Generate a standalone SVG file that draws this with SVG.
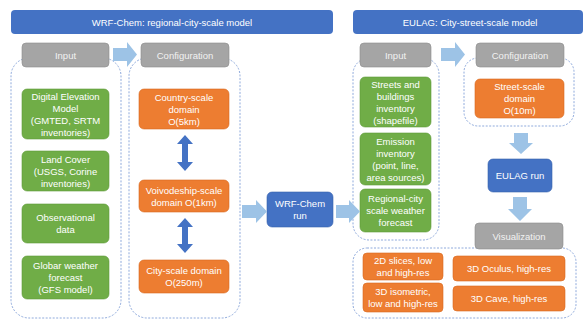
<svg xmlns="http://www.w3.org/2000/svg" width="585" height="320" viewBox="0 0 585 320">
<style>
text{font-family:"Liberation Sans",Arial,sans-serif;font-size:9.5px;fill:#fff;text-anchor:middle}
.gt{fill:#f2f2f2}
.title{fill:#4472c4}
.gray{fill:#a5a5a5;stroke:#8c8c8c;stroke-width:0.6}
.green{fill:#70ad47;stroke:#5f9a3a;stroke-width:0.6}
.orange{fill:#ed7d31;stroke:#d96a20;stroke-width:0.6}
.blue{fill:#4472c4;stroke:#3561ad;stroke-width:0.6}
.cont{fill:none;stroke:#8faadc;stroke-width:1;stroke-dasharray:2 1.5}
.larr{fill:#9dc3e6}
.darr{fill:#4472c4}
</style>
<rect width="585" height="320" fill="#fff"/>
<g id="containers">
<rect class="cont" x="11" y="58" width="110" height="260" rx="18"/>
<rect class="cont" x="129" y="58" width="111" height="260" rx="18"/>
<rect class="cont" x="353" y="58" width="86" height="182" rx="16"/>
<rect class="cont" x="464" y="58" width="110" height="68" rx="14"/>
<rect class="cont" x="353" y="248" width="223" height="70" rx="14"/>
</g>
<g id="title-wrf"><rect class="title" x="11" y="10" width="322" height="24" rx="4"/><text x="172" y="25.5">WRF-Chem: regional-city-scale model</text></g>
<g id="title-eulag"><rect class="title" x="353" y="10" width="230" height="24" rx="4"/><text x="470" y="25.5">EULAG: City-street-scale model</text></g>
<g id="input-left"><rect class="gray" x="22" y="43" width="87" height="24" rx="4"/><text class="gt" x="65.5" y="58.5">Input</text></g>
<g id="config-left"><rect class="gray" x="141" y="43" width="88" height="24" rx="4"/><text class="gt" x="185" y="58.5">Configuration</text></g>
<g id="input-right"><rect class="gray" x="360" y="43" width="71" height="24" rx="4"/><text class="gt" x="395.5" y="58.5">Input</text></g>
<g id="config-right"><rect class="gray" x="476" y="43" width="88" height="24" rx="4"/><text class="gt" x="520" y="58.5">Configuration</text></g>
<g id="dem"><rect class="green" x="22" y="89" width="87" height="50" rx="5"/><text x="65.5" y="99.5">Digital Elevation</text><text x="65.5" y="111.5">Model</text><text x="65.5" y="123.5">(GMTED, SRTM</text><text x="65.5" y="135.5">inventories)</text></g>
<g id="landcover"><rect class="green" x="22" y="151" width="87" height="40" rx="5"/><text x="65.5" y="162.5">Land Cover</text><text x="65.5" y="174.5">(USGS, Corine</text><text x="65.5" y="186.5">inventories)</text></g>
<g id="obs"><rect class="green" x="22" y="204" width="87" height="39" rx="5"/><text x="65.5" y="221">Observational</text><text x="65.5" y="233">data</text></g>
<g id="gfs"><rect class="green" x="22" y="256" width="87" height="43" rx="5"/><text x="65.5" y="269">Globar weather</text><text x="65.5" y="281">forecast</text><text x="65.5" y="293">(GFS model)</text></g>
<g id="country"><rect class="orange" x="139" y="89" width="90" height="40" rx="5"/><text x="184" y="100.5">Country-scale</text><text x="184" y="112.5">domain</text><text x="184" y="124.5">O(5km)</text></g>
<g id="voivo"><rect class="orange" x="139" y="180" width="90" height="32" rx="5"/><text x="184" y="193.5">Voivodeship-scale</text><text x="184" y="205.5">domain O(1km)</text></g>
<g id="city"><rect class="orange" x="139" y="260" width="90" height="33" rx="5"/><text x="184" y="274">City-scale domain</text><text x="184" y="286">O(250m)</text></g>
<g id="wrfrun"><rect class="blue" x="267" y="192" width="66" height="35" rx="5"/><text x="300" y="207">WRF-Chem</text><text x="300" y="219">run</text></g>
<g id="streets"><rect class="green" x="360" y="77" width="71" height="50" rx="5"/><text x="395.5" y="87.5">Streets and</text><text x="395.5" y="99.5">buildings</text><text x="395.5" y="111.5">inventory</text><text x="395.5" y="123.5">(shapefile)</text></g>
<g id="emission"><rect class="green" x="360" y="133" width="71" height="52" rx="5"/><text x="395.5" y="144.5">Emission</text><text x="395.5" y="156.5">inventory</text><text x="395.5" y="168.5">(point, line,</text><text x="395.5" y="180.5">area sources)</text></g>
<g id="regional"><rect class="green" x="360" y="189" width="71" height="43" rx="5"/><text x="395.5" y="202">Regional-city</text><text x="395.5" y="214">scale weather</text><text x="395.5" y="226">forecast</text></g>
<g id="street-domain"><rect class="orange" x="475" y="79" width="89" height="39" rx="5"/><text x="519.5" y="90">Street-scale</text><text x="519.5" y="102">domain</text><text x="519.5" y="114">O(10m)</text></g>
<g id="eulagrun"><rect class="blue" x="488" y="159" width="64" height="33" rx="5"/><text x="520" y="179">EULAG run</text></g>
<g id="visualization"><rect class="gray" x="475" y="223" width="88" height="26" rx="4"/><text class="gt" x="519" y="239.5">Visualization</text></g>
<g id="slices2d"><rect class="orange" x="363" y="253" width="80" height="27" rx="4"/><text x="403" y="264">2D slices, low</text><text x="403" y="276">and high-res</text></g>
<g id="iso3d"><rect class="orange" x="363" y="283" width="80" height="29" rx="4"/><text x="403" y="295">3D isometric,</text><text x="403" y="307">low and high-res</text></g>
<g id="oculus"><rect class="orange" x="453" y="256" width="112" height="25" rx="4"/><text x="509" y="272">3D Oculus, high-res</text></g>
<g id="cave"><rect class="orange" x="453" y="286" width="112" height="25" rx="4"/><text x="509" y="302">3D Cave, high-res</text></g>
<g id="connectors">
<polygon class="larr" points="113,48 127,48 127,42 137,54.5 127,67 127,61 113,61"/>
<polygon class="larr" points="441,48 455,48 455,42 465,54.5 455,67 455,61 441,61"/>
<polygon class="larr" points="242,205 256,205 256,200 267,211.5 256,223 256,218 242,218"/>
<polygon class="larr" points="336,205 349,205 349,200 360,211.5 349,223 349,218 336,218"/>
<polygon class="larr" points="514,133 528,133 528,143 533,143 521,154 509,143 514,143"/>
<polygon class="larr" points="513,197 527,197 527,209 532,209 520,221 508,209 513,209"/>
<polygon class="darr" points="185,135 193,144 188,144 188,162 193,162 185,171 177,162 182,162 182,144 177,144"/>
<polygon class="darr" points="185,218 193,227 188,227 188,244 193,244 185,253 177,244 182,244 182,227 177,227"/>
</g>
</svg>
